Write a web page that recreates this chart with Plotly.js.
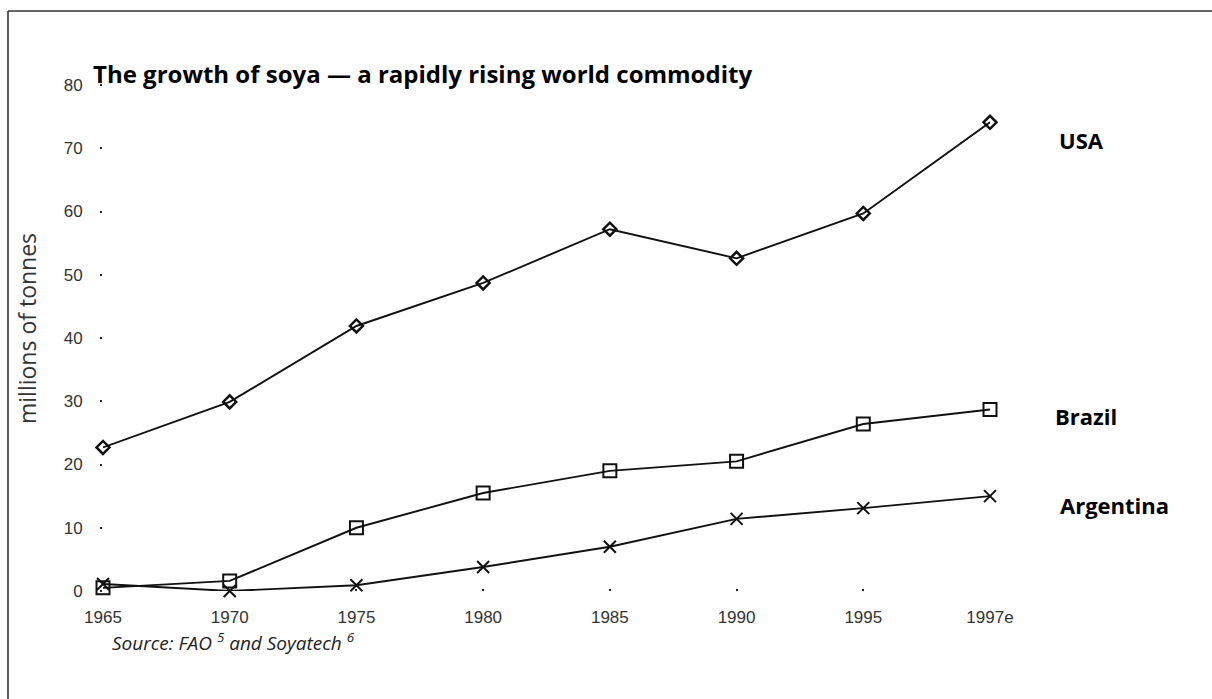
<!DOCTYPE html>
<html>
<head>
<meta charset="utf-8">
<script src="https://cdn.plot.ly/plotly-3.0.1.min.js"></script>
<style>
html,body{margin:0;padding:0;background:#fff;}
#chart{width:1212px;height:699px;}
</style>
</head>
<body>
<div id="chart"></div>
<script>
// Data (millions of tonnes)
const years = ["1965", "1970", "1975", "1980", "1985", "1990", "1995", "1997e"];
const usa = [22.7, 29.9, 41.9, 48.7, 57.2, 52.6, 59.7, 74.1];
const brazil = [0.5, 1.6, 10.0, 15.5, 19.0, 20.5, 26.4, 28.7];
const argentina = [1.1, 0.0, 0.9, 3.8, 7.0, 11.4, 13.1, 15.0];
const yTicks = [0, 10, 20, 30, 40, 50, 60, 70, 80];

const xIdx = years.map((_, i) => i);
const lineStyle = {color: '#111', width: 1.9};

const traces = [
  {x: xIdx, y: usa, name: 'USA', mode: 'lines+markers', line: lineStyle,
   marker: {symbol: 'diamond-open', size: 10, color: '#111', line: {width: 2.5, color: '#111'}}, cliponaxis: false},
  {x: xIdx, y: brazil, name: 'Brazil', mode: 'lines+markers', line: lineStyle,
   marker: {symbol: 'square-open', size: 13, color: '#111', line: {width: 2, color: '#111'}}, cliponaxis: false},
  {x: xIdx, y: argentina, name: 'Argentina', mode: 'lines+markers', line: lineStyle,
   marker: {symbol: 'x-thin-open', size: 12, color: '#111', line: {width: 2, color: '#111'}}, cliponaxis: false}
];

const tickFont = {family: 'Liberation Sans, Arial, sans-serif', size: 17, color: '#333'};
const labelFont = {family: 'Open Sans, sans-serif', size: 22, color: '#000'};

const layout = {
  width: 1212, height: 699,
  margin: {l: 103, r: 222, t: 85, b: 108},
  paper_bgcolor: '#fff', plot_bgcolor: '#fff',
  showlegend: false,
  title: {text: '<b>The growth of soya — a rapidly rising world commodity</b>',
    x: 93/1212, xanchor: 'left', xref: 'container',
    y: 1 - 75/699, yanchor: 'middle', yref: 'container',
    font: {family: 'Open Sans, sans-serif', size: 24, color: '#000'}},
  xaxis: {
    type: 'linear', range: [0, 7],
    tickmode: 'array', tickvals: xIdx, ticktext: years,
    showgrid: false, zeroline: false, showline: false,
    ticks: 'inside', ticklen: 2, tickwidth: 2, tickcolor: '#222',
    ticklabelstandoff: 14, tickfont: tickFont
  },
  yaxis: {
    range: [0, 80],
    tickmode: 'array', tickvals: yTicks, ticktext: yTicks.map(String),
    showgrid: false, zeroline: false, showline: false,
    ticks: 'outside', ticklen: 2, tickwidth: 2, tickcolor: '#222',
    ticklabelstandoff: 14, tickfont: tickFont
  },
  annotations: [
    {text: '<b>USA</b>', xref: 'paper', yref: 'paper', x: (1057-103)/887, y: (591-140)/506,
     xanchor: 'left', yanchor: 'middle', showarrow: false, font: labelFont},
    {text: '<b>Brazil</b>', xref: 'paper', yref: 'paper', x: (1053-103)/887, y: (591-416)/506,
     xanchor: 'left', yanchor: 'middle', showarrow: false, font: labelFont},
    {text: '<b>Argentina</b>', xref: 'paper', yref: 'paper', x: (1058-103)/887, y: (591-505)/506,
     xanchor: 'left', yanchor: 'middle', showarrow: false, font: labelFont},
    {text: 'millions of tonnes', xref: 'paper', yref: 'paper', x: (27-103)/887, y: (591-329)/506,
     xanchor: 'center', yanchor: 'middle', textangle: -90, showarrow: false,
     font: {family: 'Open Sans, sans-serif', size: 23, color: '#333'}},
    {text: '<i>Source: FAO <sup>5</sup> and Soyatech <sup>6</sup></i>',
     xref: 'paper', yref: 'paper',
     x: (110-103)/887, y: (591-642)/506, xanchor: 'left', yanchor: 'middle', showarrow: false,
     font: {family: 'Open Sans, sans-serif', size: 19, color: '#222'}}
  ],
  shapes: [
    {type: 'line', xref: 'paper', yref: 'paper', x0: (8-103)/887, x1: (1212-103)/887,
     y0: (591-11)/506, y1: (591-11)/506, line: {color: '#333', width: 1.6}},
    {type: 'line', xref: 'paper', yref: 'paper', x0: (8-103)/887, x1: (8-103)/887,
     y0: (591-11)/506, y1: (591-699)/506, line: {color: '#333', width: 1.6}}
  ]
};

Plotly.newPlot('chart', traces, layout, {staticPlot: true, displayModeBar: false});
</script>
</body>
</html>
